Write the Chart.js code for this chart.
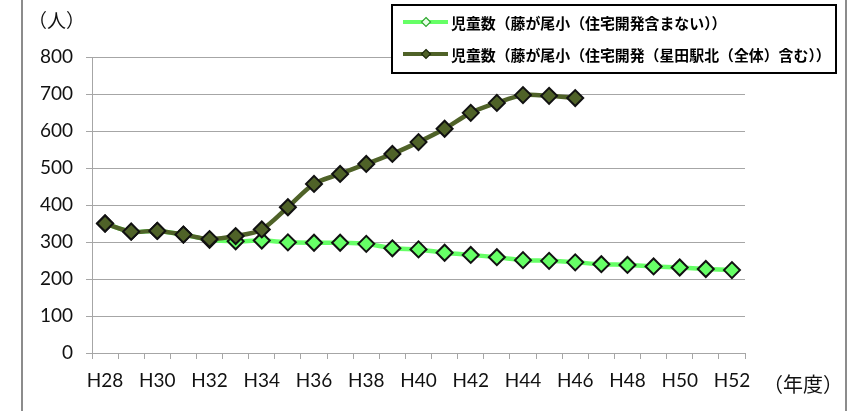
<!DOCTYPE html>
<html>
<head>
<meta charset="utf-8">
<script src="https://cdn.jsdelivr.net/npm/chart.js@4/dist/chart.umd.min.js"></script>
<style>
  html, body { margin: 0; padding: 0; background: #fff; }
  canvas { display: block; }
</style>
</head>
<body>
<canvas id="chart" width="856" height="411"></canvas>
<script>
// School years (Heisei) on the horizontal axis
const years = ['H28','H29','H30','H31','H32','H33','H34','H35','H36','H37','H38','H39','H40',
               'H41','H42','H43','H44','H45','H46','H47','H48','H49','H50','H51','H52'];

// Pupils at Fujigao elementary, excluding housing development
const pupilsBase = [350, 328, 330, 320, 306, 302, 304, 299, 298, 298, 295, 283, 280,
                    271, 265, 259, 251, 249, 245, 240, 238, 234, 231, 227, 224];

// Pupils including the Hoshida station north development (projection ends at H46)
const pupilsWithDevelopment = [350, 328, 330, 320, 308, 316, 334, 394, 457, 484, 511, 538, 570,
                               606, 649, 676, 697, 695, 689, null, null, null, null, null, null];

const seriesNames = [
  '児童数（藤が尾小（住宅開発含まない））',
  '児童数（藤が尾小（住宅開発（星田駅北（全体）含む））'
];

const yUnit = '（人）';
const xUnit = '（年度）';

const LIGHT = '#66FF66';
const DARK = '#4F6228';
const GRID = '#A6A6A6';
const LABEL_FONT = 'Lato, "Noto Sans", sans-serif';
const CJK_FONT = '"Noto Sans CJK JP", "Noto Sans", sans-serif';

// Gray frame edges, unit captions and the boxed legend
const decorations = {
  id: 'decorations',
  beforeDraw(chart) {
    const ctx = chart.ctx;
    ctx.save();
    ctx.fillStyle = '#fff';
    ctx.fillRect(0, 0, chart.width, chart.height);
    ctx.strokeStyle = '#8C8C8C';
    ctx.lineWidth = 2;
    ctx.beginPath();
    ctx.moveTo(22, 0); ctx.lineTo(22, chart.height);
    ctx.moveTo(846, 0); ctx.lineTo(846, chart.height);
    ctx.stroke();
    ctx.restore();
  },
  afterDraw(chart) {
    const ctx = chart.ctx;
    ctx.save();
    ctx.fillStyle = '#111';
    ctx.textBaseline = 'middle';
    ctx.textAlign = 'left';
    ctx.font = '19px ' + CJK_FONT;
    ctx.fillText(yUnit, 28, 21);
    ctx.font = '20px ' + CJK_FONT;
    ctx.fillText(xUnit, 763, 384);

    // legend box
    const bx = 392, by = 5, bw = 444, bh = 68;
    ctx.fillStyle = '#fff';
    ctx.fillRect(bx, by, bw, bh);
    ctx.strokeStyle = '#000';
    ctx.lineWidth = 2;
    ctx.strokeRect(bx, by, bw, bh);

    chart.data.datasets.forEach((ds, i) => {
      const y = 22 + i * 32;
      ctx.strokeStyle = ds.borderColor;
      ctx.lineWidth = 4;
      ctx.beginPath();
      ctx.moveTo(403, y); ctx.lineTo(448, y);
      ctx.stroke();
      const r = 4.5;
      ctx.beginPath();
      ctx.moveTo(426, y - r); ctx.lineTo(426 + r, y);
      ctx.lineTo(426, y + r); ctx.lineTo(426 - r, y);
      ctx.closePath();
      ctx.fillStyle = i === 0 ? '#E8FFE8' : ds.pointBackgroundColor;
      ctx.fill();
      ctx.lineWidth = 1.2;
      ctx.strokeStyle = i === 0 ? '#2EA82E' : '#1E2A0E';
      ctx.stroke();
      ctx.fillStyle = '#000';
      ctx.font = 'bold 14.9px ' + CJK_FONT;
      ctx.textBaseline = 'middle';
      ctx.fillText(ds.label, 451, y + 1);
    });
    ctx.restore();
  }
};

new Chart(document.getElementById('chart'), {
  type: 'line',
  data: {
    labels: years,
    datasets: [
      {
        label: seriesNames[0],
        data: pupilsBase,
        borderColor: LIGHT,
        borderWidth: 4.5,
        pointStyle: 'rectRot',
        pointRadius: 8,
        pointBackgroundColor: LIGHT,
        pointBorderColor: '#111',
        pointBorderWidth: 2,
        tension: 0.3,
        order: 1
      },
      {
        label: seriesNames[1],
        data: pupilsWithDevelopment,
        borderColor: DARK,
        borderWidth: 4.5,
        pointStyle: 'rectRot',
        pointRadius: 8,
        pointBackgroundColor: DARK,
        pointBorderColor: '#111',
        pointBorderWidth: 2,
        tension: 0.3,
        spanGaps: false,
        order: 0
      }
    ]
  },
  options: {
    responsive: false,
    animation: false,
    layout: { padding: { top: 57, left: 0, right: 111, bottom: 0 } },
    plugins: {
      legend: { display: false },
      tooltip: { enabled: false }
    },
    scales: {
      x: {
        offset: true,
        grid: {
          offset: true,
          drawOnChartArea: false,
          drawTicks: true,
          tickLength: 6,
          color: GRID
        },
        border: { color: GRID, width: 1 },
        ticks: {
          autoSkip: false,
          maxRotation: 0,
          padding: 10,
          color: '#111',
          font: { family: LABEL_FONT, size: 19 },
          callback: (v, i) => (i % 2 === 0 ? years[i] : '')
        },
        afterFit(scale) { scale.height = 58; }
      },
      y: {
        min: 0,
        max: 800,
        ticks: {
          stepSize: 100,
          padding: 13,
          color: '#111',
          font: { family: LABEL_FONT, size: 19 }
        },
        grid: { color: GRID, tickLength: 6 },
        border: { color: GRID, width: 1 },
        afterFit(scale) { scale.width = 92; }
      }
    }
  },
  plugins: [decorations]
});
</script>
</body>
</html>
